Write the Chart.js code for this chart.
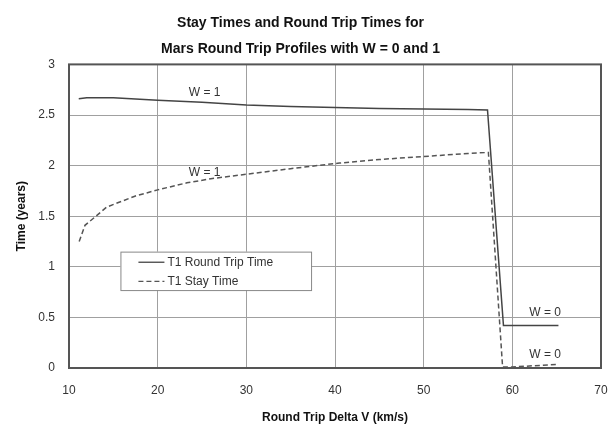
<!DOCTYPE html>
<html>
<head>
<meta charset="utf-8">
<script src="https://cdn.jsdelivr.net/npm/chart.js@4/dist/chart.umd.min.js"></script>
<style>
  html, body { margin: 0; padding: 0; background: #ffffff; }
  #wrap { width: 615px; height: 428px; }
</style>
</head>
<body>
<div id="wrap"><canvas id="c" width="615" height="428"></canvas></div>
<script>
// Round trip delta V (km/s) and T1 round trip time (years)
const roundTripDeltaV = [11.1, 12, 15, 20, 25, 30, 35, 40, 45, 50, 55, 57.2, 59.0, 65.2];
const roundTripTime   = [2.66, 2.67, 2.67, 2.645, 2.625, 2.60, 2.585, 2.575, 2.565, 2.56, 2.555, 2.55, 0.42, 0.42];

// Round trip delta V (km/s) and T1 stay time (years)
const stayDeltaV = [11.15, 11.8, 12.9, 14.25, 17.5, 20, 23.3, 26, 30, 35, 40.5, 45, 50, 55, 57.3, 58.9, 60, 65];
const stayTime   = [1.25, 1.41, 1.49, 1.59, 1.70, 1.76, 1.83, 1.87, 1.915, 1.97, 2.025, 2.06, 2.09, 2.12, 2.13, 0.01, 0.01, 0.035];

const seriesNames = ["T1 Round Trip Time", "T1 Stay Time"];
const titleLines = ["Stay Times and Round Trip Times for", "Mars Round Trip Profiles with W = 0 and 1"];

// Curve labels (text, delta V, time)
const curveLabels = [
  ["W = 1", 25.3, 2.72],
  ["W = 1", 25.3, 1.93],
  ["W = 0", 63.7, 0.55],
  ["W = 0", 63.7, 0.13]
];

const FONT = "'Liberation Sans', Arial, Helvetica, sans-serif";

const toPoints = (xs, ys) => xs.map((x, i) => ({ x: x, y: ys[i] }));

// Frame around the plot, curve labels and the inset legend
const decorations = {
  id: 'decorations',
  beforeDatasetsDraw(chart) {
    const a = chart.chartArea;
    const ctx = chart.ctx;
    ctx.save();
    ctx.strokeStyle = '#555555';
    ctx.lineWidth = 2;
    ctx.strokeRect(a.left, a.top, a.right - a.left, a.bottom - a.top);
    ctx.restore();
  },
  afterDatasetsDraw(chart) {
    const ctx = chart.ctx;
    const xs = chart.scales.x, ys = chart.scales.y;
    ctx.save();
    ctx.font = '12px ' + FONT;
    ctx.fillStyle = '#333333';
    ctx.textAlign = 'center';
    ctx.textBaseline = 'middle';
    curveLabels.forEach(([t, x, y]) => {
      ctx.fillText(t, xs.getPixelForValue(x), ys.getPixelForValue(y));
    });

    // legend box anchored in data space
    const left = xs.getPixelForValue(15.8);
    const right = xs.getPixelForValue(37.3);
    const top = ys.getPixelForValue(1.15);
    const bottom = ys.getPixelForValue(0.77);
    ctx.fillStyle = '#ffffff';
    ctx.fillRect(left, top, right - left, bottom - top);
    ctx.strokeStyle = '#888888';
    ctx.lineWidth = 1;
    ctx.strokeRect(left + 0.5, top + 0.5, right - left, bottom - top);
    const rowH = (bottom - top) / 2;
    chart.data.datasets.forEach((ds, i) => {
      const cy = top + rowH * (i + 0.5) + 1;
      ctx.beginPath();
      ctx.setLineDash(ds.borderDash || []);
      ctx.strokeStyle = ds.borderColor;
      ctx.lineWidth = 1.3;
      ctx.moveTo(left + 18, cy);
      ctx.lineTo(left + 44, cy);
      ctx.stroke();
      ctx.setLineDash([]);
      ctx.fillStyle = '#333333';
      ctx.textAlign = 'left';
      ctx.fillText(ds.label, left + 47, cy);
    });
    ctx.restore();
  }
};

new Chart(document.getElementById('c'), {
  type: 'line',
  data: {
    datasets: [
      {
        label: seriesNames[0],
        data: toPoints(roundTripDeltaV, roundTripTime),
        borderColor: '#444444',
        borderWidth: 1.5,
        pointRadius: 0,
        tension: 0,
        fill: false
      },
      {
        label: seriesNames[1],
        data: toPoints(stayDeltaV, stayTime),
        borderColor: '#555555',
        borderWidth: 1.5,
        borderDash: [5, 3],
        pointRadius: 0,
        tension: 0,
        fill: false
      }
    ]
  },
  options: {
    responsive: false,
    animation: false,
    layout: { padding: { left: 0, right: 14, top: 0, bottom: 0 } },
    plugins: {
      legend: { display: false },
      tooltip: { enabled: false },
      title: {
        display: true,
        text: titleLines,
        color: '#111111',
        font: { family: FONT, size: 14, weight: 'bold', lineHeight: 1.8 },
        padding: { top: 11, bottom: 3 }
      }
    },
    scales: {
      x: {
        type: 'linear',
        min: 10, max: 70,
        afterFit(s) { s.height = 60; s.paddingLeft = 0; s.paddingRight = 0; },
        ticks: { stepSize: 10, color: '#333333', padding: 15, maxRotation: 0,
                 font: { family: FONT, size: 12 } },
        grid: { color: '#a0a0a0', lineWidth: 1, drawTicks: false },
        border: { display: false },
        title: {
          display: true,
          text: 'Round Trip Delta V (km/s)',
          color: '#111111',
          font: { family: FONT, size: 12, weight: 'bold' },
          padding: { top: 3, bottom: 3 }
        }
      },
      y: {
        type: 'linear',
        min: 0, max: 3,
        afterFit(s) { s.width = 69; },
        ticks: { stepSize: 0.5, color: '#333333', padding: 14,
                 callback: (v) => String(v),
                 font: { family: FONT, size: 12 } },
        grid: { color: '#a0a0a0', lineWidth: 1, drawTicks: false },
        border: { display: false },
        title: {
          display: true,
          text: 'Time (years)',
          color: '#111111',
          font: { family: FONT, size: 12, weight: 'bold' },
          padding: { top: 14, bottom: 14 }
        }
      }
    }
  },
  plugins: [decorations]
});
</script>
</body>
</html>
